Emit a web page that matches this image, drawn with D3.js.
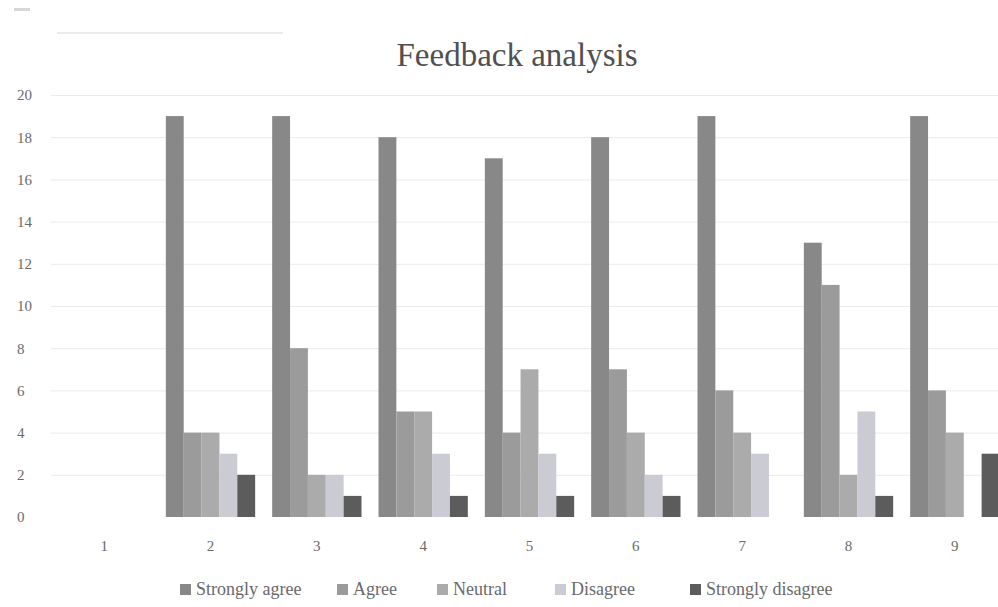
<!DOCTYPE html>
<html>
<head>
<meta charset="utf-8">
<script src="https://cdn.jsdelivr.net/npm/d3@7"></script>
<style>
  html, body { margin: 0; padding: 0; background: #fff; overflow: hidden; }
  svg { display: block; }
</style>
</head>
<body>
<svg id="chart" width="998" height="607"></svg>
<script>
// ---- data ----
const categories = ["1", "2", "3", "4", "5", "6", "7", "8", "9"];
const seriesNames = ["Strongly agree", "Agree", "Neutral", "Disagree", "Strongly disagree"];
const stronglyAgree    = [0, 19, 19, 18, 17, 18, 19, 13, 19];
const agree            = [0, 4, 8, 5, 4, 7, 6, 11, 6];
const neutral          = [0, 4, 2, 5, 7, 4, 4, 2, 4];
const disagree         = [0, 3, 2, 3, 3, 2, 3, 5, 0];
const stronglyDisagree = [0, 2, 1, 1, 1, 1, 0, 1, 3];
const yTicks = [0, 2, 4, 6, 8, 10, 12, 14, 16, 18, 20];
const chartTitle = "Feedback analysis";

const seriesValues = [stronglyAgree, agree, neutral, disagree, stronglyDisagree];
const colors = ["#888888", "#9b9b9b", "#ababab", "#cbcbd3", "#5c5c5c"];

// ---- layout ----
const svg = d3.select("#chart");
const W = 998, H = 607;
const plot = { left: 51, right: 1008, top: 95, bottom: 517 };
const FONT = "'Liberation Serif', 'Times New Roman', serif";
const legendX = [180, 337, 437, 555, 690];

svg.append("rect").attr("width", W).attr("height", H).attr("fill", "#fff");

// faint artifacts at top-left of the reference
svg.append("rect").attr("x", 14).attr("y", 8).attr("width", 16).attr("height", 3).attr("fill", "#d8d8d8");
svg.append("line").attr("x1", 57).attr("x2", 283).attr("y1", 33).attr("y2", 33)
  .attr("stroke", "#ececec").attr("stroke-width", 2);

const x0 = d3.scaleBand().domain(categories).range([plot.left, plot.right]).paddingInner(0).paddingOuter(0);
const groupWidth = x0.bandwidth() * 0.84;
const x1 = d3.scaleBand().domain(seriesNames).range([0, groupWidth]).padding(0);
const y = d3.scaleLinear().domain([0, 20]).range([plot.bottom, plot.top]);

// gridlines
svg.append("g")
  .selectAll("line").data(yTicks.filter(t => t > 0)).join("line")
  .attr("x1", plot.left).attr("x2", plot.right)
  .attr("y1", d => y(d) + 0.5).attr("y2", d => y(d) + 0.5)
  .attr("stroke", "#ebebeb").attr("stroke-width", 1);

// y axis labels
const yAxis = d3.axisLeft(y).tickValues(yTicks).tickSize(0).tickFormat(d3.format("d"));
const yg = svg.append("g").attr("transform", `translate(17,0)`).call(yAxis);
yg.attr("font-family", null);
yg.select(".domain").remove();
yg.selectAll("text")
  .attr("x", 0).attr("text-anchor", "start")
  .style("font-family", FONT).style("font-size", "15px").attr("fill", "#6a6a6a");

// x axis labels
const xAxis = d3.axisBottom(x0).tickSize(0).tickPadding(0);
const xg = svg.append("g").attr("transform", `translate(0,${plot.bottom + 23})`).call(xAxis);
xg.attr("font-family", null);
xg.select(".domain").remove();
xg.selectAll("text")
  .style("font-family", FONT).style("font-size", "15px").attr("fill", "#6a6a6a");

// bars
const groups = svg.append("g").selectAll("g").data(categories).join("g")
  .attr("transform", d => `translate(${x0(d) + (x0.bandwidth() - groupWidth) / 2},0)`);
groups.selectAll("rect")
  .data((c, i) => seriesNames.map((s, k) => ({ s, k, v: seriesValues[k][i] })))
  .join("rect")
  .attr("x", d => x1(d.s))
  .attr("width", x1.bandwidth())
  .attr("y", d => y(d.v))
  .attr("height", d => y(0) - y(d.v))
  .attr("fill", d => colors[d.k]);

// title
svg.append("text")
  .attr("x", 517).attr("y", 66)
  .attr("text-anchor", "middle")
  .style("font-family", FONT).style("font-size", "33px").attr("fill", "#505050")
  .text(chartTitle);

// legend
const legend = svg.append("g").attr("transform", "translate(0,590)");
seriesNames.forEach((s, k) => {
  const g = legend.append("g").attr("transform", `translate(${legendX[k]},0)`);
  g.append("rect").attr("x", 0).attr("y", -6).attr("width", 11).attr("height", 11).attr("fill", colors[k]);
  g.append("text").attr("x", 16).attr("y", 5)
    .style("font-family", FONT).style("font-size", "18px").attr("fill", "#6a6a6a").text(s);
});
</script>
</body>
</html>
